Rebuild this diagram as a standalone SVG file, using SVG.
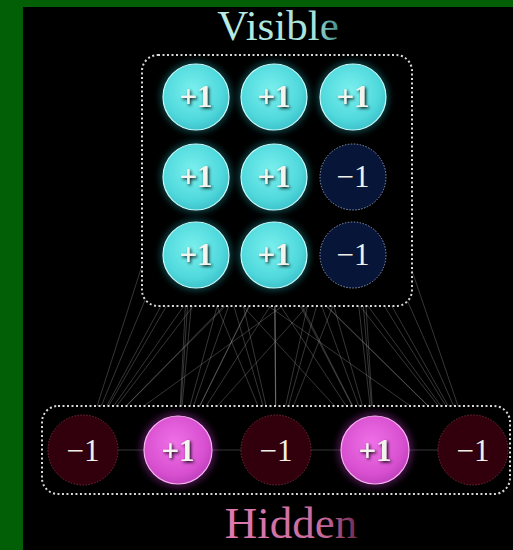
<svg xmlns="http://www.w3.org/2000/svg" width="513" height="550" viewBox="0 0 513 550">
<defs>
<radialGradient id="gCyan" cx="0.45" cy="0.4" r="0.65">
<stop offset="0" stop-color="#7af0ee"/>
<stop offset="0.7" stop-color="#4fd8dc"/>
<stop offset="1" stop-color="#38bcc6"/>
</radialGradient>
<radialGradient id="gMag" cx="0.45" cy="0.4" r="0.65">
<stop offset="0" stop-color="#f070e8"/>
<stop offset="0.7" stop-color="#d850d0"/>
<stop offset="1" stop-color="#b83cb8"/>
</radialGradient>
<linearGradient id="gVis" x1="0" y1="0" x2="1" y2="0">
<stop offset="0" stop-color="#b8ece4"/>
<stop offset="0.8" stop-color="#a6e2da"/>
<stop offset="1" stop-color="#3e8a88"/>
</linearGradient>
<linearGradient id="gHid" x1="0" y1="0" x2="1" y2="0">
<stop offset="0" stop-color="#e07ab0"/>
<stop offset="0.75" stop-color="#c86a9c"/>
<stop offset="1" stop-color="#6a2a50"/>
</linearGradient>
<filter id="glowC" x="-30%" y="-30%" width="160%" height="160%">
<feGaussianBlur stdDeviation="3"/>
</filter>
<filter id="shadow" x="-30%" y="-30%" width="160%" height="160%">
<feDropShadow dx="1.5" dy="1.5" stdDeviation="1.5" flood-color="#000" flood-opacity="0.9"/>
</filter>
</defs>
<style>
.num{font-family:"Liberation Serif","DejaVu Serif",serif;font-size:31px;font-weight:bold;fill:#f4f4ee;text-anchor:middle;filter:url(#shadow)}
.numL{font-family:"Liberation Serif","DejaVu Serif",serif;font-size:31px;fill:#f0f0ea;text-anchor:middle}
.vp{fill:url(#gCyan);stroke:#c8fafa;stroke-width:1.2}
.vn{fill:#071638;stroke:#8a9ab8;stroke-width:1;stroke-dasharray:1.5 1.5}
.hp{fill:url(#gMag);stroke:#f8b0f0;stroke-width:1.2}
.hn{fill:#32000c;stroke:#7a2a3a;stroke-width:1;stroke-dasharray:1.5 1.5}
.box{fill:#000;stroke:#d8d8d8;stroke-width:2;stroke-dasharray:2 2.5}
.ln{stroke:#a8a8a8;stroke-width:0.8;opacity:0.4}
.title{font-family:"Liberation Serif","DejaVu Serif",serif;text-anchor:middle}
</style>
<rect x="0" y="0" width="513" height="550" fill="#000"/>
<rect x="0" y="0" width="23" height="550" fill="#035f05"/>
<rect x="0" y="0" width="513" height="7" fill="#035f05"/>

<text class="title" x="278" y="40" font-size="43" fill="url(#gVis)">Visible</text>
<text class="title" x="291" y="538" font-size="45" fill="url(#gHid)">Hidden</text>

<g id="connectors">
<line class="ln" x1="196" y1="97" x2="83" y2="450"/><line class="ln" x1="196" y1="97" x2="178" y2="450"/><line class="ln" x1="196" y1="97" x2="276" y2="450"/><line class="ln" x1="196" y1="97" x2="375" y2="450"/><line class="ln" x1="196" y1="97" x2="473" y2="450"/>
<line class="ln" x1="274" y1="97" x2="83" y2="450"/><line class="ln" x1="274" y1="97" x2="178" y2="450"/><line class="ln" x1="274" y1="97" x2="276" y2="450"/><line class="ln" x1="274" y1="97" x2="375" y2="450"/><line class="ln" x1="274" y1="97" x2="473" y2="450"/>
<line class="ln" x1="353" y1="97" x2="83" y2="450"/><line class="ln" x1="353" y1="97" x2="178" y2="450"/><line class="ln" x1="353" y1="97" x2="276" y2="450"/><line class="ln" x1="353" y1="97" x2="375" y2="450"/><line class="ln" x1="353" y1="97" x2="473" y2="450"/>
<line class="ln" x1="196" y1="177" x2="83" y2="450"/><line class="ln" x1="196" y1="177" x2="178" y2="450"/><line class="ln" x1="196" y1="177" x2="276" y2="450"/><line class="ln" x1="196" y1="177" x2="375" y2="450"/><line class="ln" x1="196" y1="177" x2="473" y2="450"/>
<line class="ln" x1="274" y1="177" x2="83" y2="450"/><line class="ln" x1="274" y1="177" x2="178" y2="450"/><line class="ln" x1="274" y1="177" x2="276" y2="450"/><line class="ln" x1="274" y1="177" x2="375" y2="450"/><line class="ln" x1="274" y1="177" x2="473" y2="450"/>
<line class="ln" x1="353" y1="177" x2="83" y2="450"/><line class="ln" x1="353" y1="177" x2="178" y2="450"/><line class="ln" x1="353" y1="177" x2="276" y2="450"/><line class="ln" x1="353" y1="177" x2="375" y2="450"/><line class="ln" x1="353" y1="177" x2="473" y2="450"/>
<line class="ln" x1="196" y1="255" x2="83" y2="450"/><line class="ln" x1="196" y1="255" x2="178" y2="450"/><line class="ln" x1="196" y1="255" x2="276" y2="450"/><line class="ln" x1="196" y1="255" x2="375" y2="450"/><line class="ln" x1="196" y1="255" x2="473" y2="450"/>
<line class="ln" x1="274" y1="255" x2="83" y2="450"/><line class="ln" x1="274" y1="255" x2="178" y2="450"/><line class="ln" x1="274" y1="255" x2="276" y2="450"/><line class="ln" x1="274" y1="255" x2="375" y2="450"/><line class="ln" x1="274" y1="255" x2="473" y2="450"/>
<line class="ln" x1="353" y1="255" x2="83" y2="450"/><line class="ln" x1="353" y1="255" x2="178" y2="450"/><line class="ln" x1="353" y1="255" x2="276" y2="450"/><line class="ln" x1="353" y1="255" x2="375" y2="450"/><line class="ln" x1="353" y1="255" x2="473" y2="450"/>
</g>

<g id="visible-layer">
<rect class="box" x="142" y="55" width="270" height="251" rx="16"/>
</g>
<g id="hidden-layer">
<rect class="box" x="42" y="406" width="468" height="88" rx="16"/>
<line class="ln" x1="83" y1="450" x2="473" y2="450"/>
</g>

<g id="v11"><circle cx="196" cy="97" r="36" fill="#2ab8c0" opacity="0.35" filter="url(#glowC)"/><circle class="vp" cx="196" cy="97" r="33"/><text class="num" x="196" y="107">+1</text></g>
<g id="v12"><circle cx="274" cy="97" r="36" fill="#2ab8c0" opacity="0.35" filter="url(#glowC)"/><circle class="vp" cx="274" cy="97" r="33"/><text class="num" x="274" y="107">+1</text></g>
<g id="v13"><circle cx="353" cy="97" r="36" fill="#2ab8c0" opacity="0.35" filter="url(#glowC)"/><circle class="vp" cx="353" cy="97" r="33"/><text class="num" x="353" y="107">+1</text></g>
<g id="v21"><circle cx="196" cy="177" r="36" fill="#2ab8c0" opacity="0.35" filter="url(#glowC)"/><circle class="vp" cx="196" cy="177" r="33"/><text class="num" x="196" y="187">+1</text></g>
<g id="v22"><circle cx="274" cy="177" r="36" fill="#2ab8c0" opacity="0.35" filter="url(#glowC)"/><circle class="vp" cx="274" cy="177" r="33"/><text class="num" x="274" y="187">+1</text></g>
<g id="v23"><circle class="vn" cx="353" cy="177" r="33"/><text class="numL" x="353" y="187">−1</text></g>
<g id="v31"><circle cx="196" cy="255" r="36" fill="#2ab8c0" opacity="0.35" filter="url(#glowC)"/><circle class="vp" cx="196" cy="255" r="33"/><text class="num" x="196" y="265">+1</text></g>
<g id="v32"><circle cx="274" cy="255" r="36" fill="#2ab8c0" opacity="0.35" filter="url(#glowC)"/><circle class="vp" cx="274" cy="255" r="33"/><text class="num" x="274" y="265">+1</text></g>
<g id="v33"><circle class="vn" cx="353" cy="255" r="33"/><text class="numL" x="353" y="265">−1</text></g>

<g id="h1"><circle class="hn" cx="83" cy="450" r="35"/><text class="numL" x="83" y="461">−1</text></g>
<g id="h2"><circle cx="178" cy="450" r="38" fill="#a030a8" opacity="0.4" filter="url(#glowC)"/><circle class="hp" cx="178" cy="450" r="34"/><text class="num" x="178" y="461">+1</text></g>
<g id="h3"><circle class="hn" cx="276" cy="450" r="35"/><text class="numL" x="276" y="461">−1</text></g>
<g id="h4"><circle cx="375" cy="450" r="38" fill="#a030a8" opacity="0.4" filter="url(#glowC)"/><circle class="hp" cx="375" cy="450" r="34"/><text class="num" x="375" y="461">+1</text></g>
<g id="h5"><circle class="hn" cx="473" cy="450" r="35"/><text class="numL" x="473" y="461">−1</text></g>
</svg>
